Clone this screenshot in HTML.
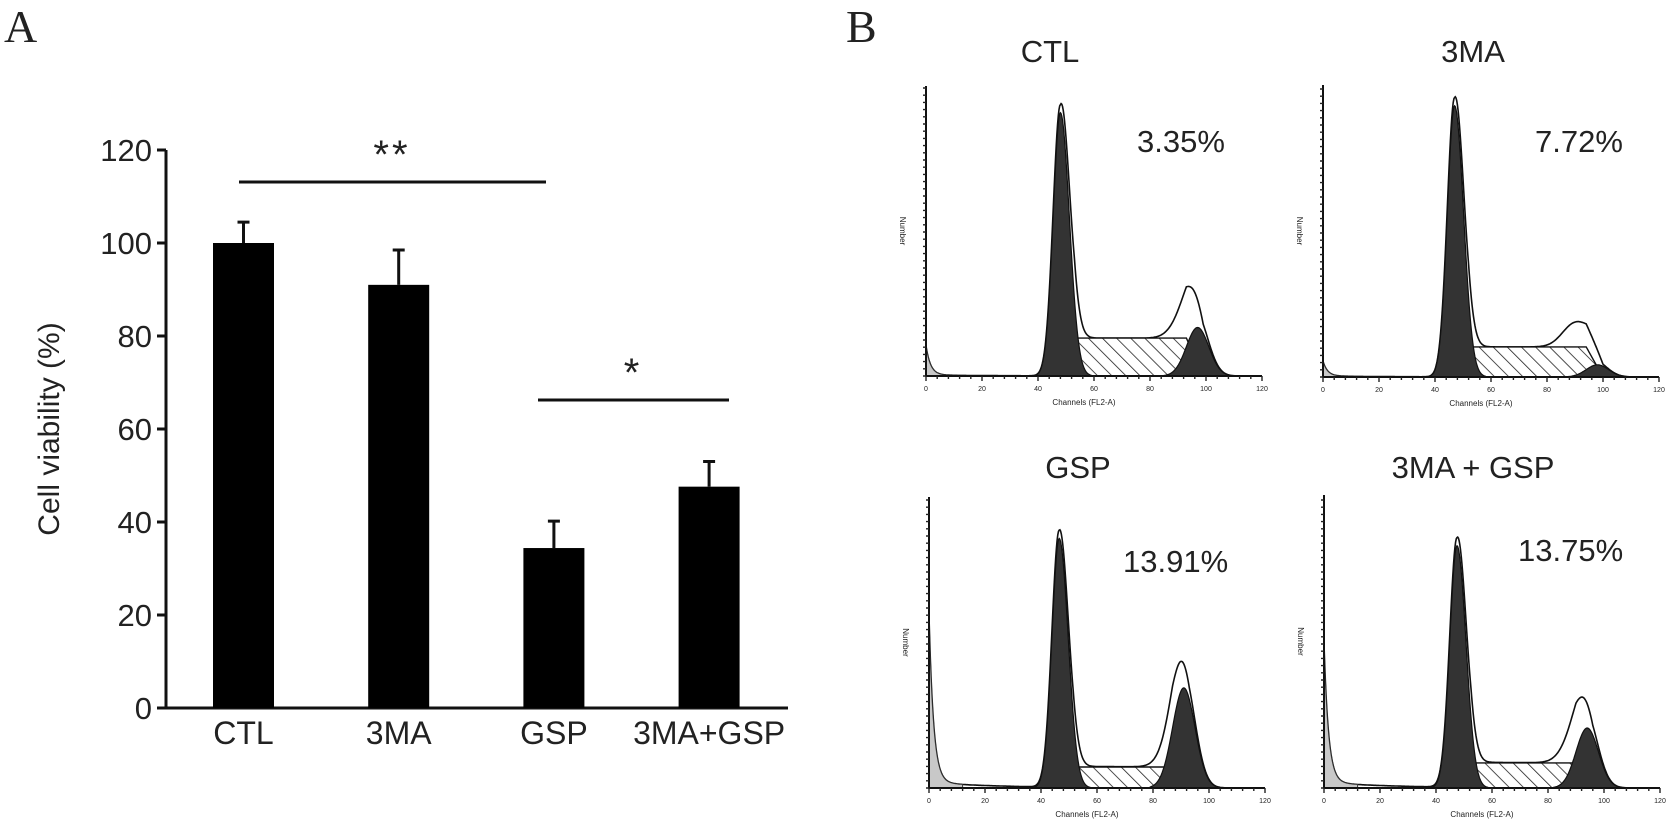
<!DOCTYPE html>
<html><head><meta charset="utf-8"><style>
html,body{margin:0;padding:0;background:#fff}
svg{display:block}
text{font-family:"Liberation Sans",Arial,sans-serif;fill:#222}
</style></head><body>
<svg id="fig" width="1680" height="833" viewBox="0 0 1680 833">
<defs>
<pattern id="hatch" width="10" height="10" patternUnits="userSpaceOnUse" patternTransform="rotate(-45)">
<rect width="10" height="10" fill="#fff"/><line x1="0" y1="0" x2="0" y2="10" stroke="#222" stroke-width="1.6"/>
</pattern>
</defs>
<text x="4" y="42" style="font-family:'Liberation Serif',serif;font-size:46px" fill="#111">A</text>
<text x="846" y="42" style="font-family:'Liberation Serif',serif;font-size:46px" fill="#111">B</text>
<g id="barChart"></g>
<g id="flow"></g>
</svg>
<script>
const NS="http://www.w3.org/2000/svg";
const categories=["CTL","3MA","GSP","3MA+GSP"];
const viability=[100,91,34.4,47.6];
const errors=[4.5,7.5,5.8,5.4];
const yTicks=[0,20,40,60,80,100,120];
const sigGroups=[[0,2,"**",120],[2,3,"*",75]];

// flow panels data
const panelTitles=["CTL","3MA","GSP","3MA + GSP"];
const percents=["3.35%","7.72%","13.91%","13.75%"];
const g1Channel=[48,47,46.5,47.5];
const g1Height=[1085,1110,536,521];
const g2Channel=[97,98,91,94];
const g2Height=[200,50,215,129];
const g2OutlineChannel=[93,90,88,90];
const g2OutlineHeight=[90,95,45,50];
const sLevel=[156,123,45,54];
const debrisHeight=[120,60,356,296];
const yMaxCounts=[1195,1195,625,630];

function mk(tag,attrs,parent){const e=document.createElementNS(NS,tag);for(const k in attrs)e.setAttribute(k,attrs[k]);parent.appendChild(e);return e;}

// ---- bar chart ----
const bc=document.getElementById('barChart');
const axX=166,y0=708,y120=150,xEnd=788;
const yScale=v=>y0-(v/120)*(y0-y120);
const xCenter=i=>243.5+i*155.2;
const barW=61;
mk('line',{x1:axX,y1:y120,x2:axX,y2:y0,stroke:'#111','stroke-width':3},bc);
mk('line',{x1:axX-1.5,y1:y0,x2:xEnd,y2:y0,stroke:'#111','stroke-width':3},bc);
yTicks.forEach(t=>{
  const y=yScale(t);
  const l=mk('line',{x1:axX-9,y1:y,x2:axX,y2:y,stroke:'#111','stroke-width':3},bc);
  
  
  const tx=mk('text',{x:axX-14,y:y+11,'text-anchor':'end','font-size':31},bc);
  tx.textContent=t;
  
  
});
const yl=mk('text',{x:0,y:0,'text-anchor':'middle','font-size':30,transform:`translate(59,429) rotate(-90)`},bc);
yl.textContent="Cell viability (%)";


categories.forEach((c,i)=>{
  const cx=xCenter(i),top=yScale(viability[i]),et=yScale(viability[i]+errors[i]);
  const r=mk('rect',{x:cx-barW/2,y:top,width:barW,height:y0-top,fill:'#000'},bc);
  
  
  const e=mk('path',{d:`M${cx},${top} V${et} M${cx-6},${et} H${cx+6}`,stroke:'#111','stroke-width':3,fill:'none'},bc);
  
  
  const t=mk('text',{x:cx,y:744,'text-anchor':'middle','font-size':32},bc);
  t.textContent=c;
  
  
});
sigGroups.forEach(g=>{
  const yy=g[2]==="**"?182:400;
  const l=mk('line',{x1:g[2]==="**"?239:538,y1:yy,x2:g[2]==="**"?546:729,y2:yy,stroke:'#111','stroke-width':3},bc);
  
  
  const t=mk('text',{x:g[2]==="**"?392:633,y:yy-14,'text-anchor':'middle','font-size':40,fill:'#4a5666','letter-spacing':3},bc);
  t.textContent=g[2];
  
  
});

// ---- flow panels ----
const fl=document.getElementById('flow');
const geo=[{ax:926,base:376,top:86},{ax:1323,base:377,top:85},{ax:929,base:788,top:497},{ax:1324,base:788,top:495}];
const titlePos=[[1050,62],[1473,62],[1078,478],[1473,478]];
const pctPos=[[1137,152],[1535,152],[1123,572],[1518,561]];
const W=336;
const gauss=(x,m,s)=>Math.exp(-0.5*((x-m)/s)**2);
function sCurve(ch,a,b,lv){
  if(ch<a||ch>b+6)return 0;
  let v=lv;
  if(ch<a+5)v*= (ch-a)/5;
  if(ch>b)v*=1-(ch-b)/6;
  return v;
}
for(let p=0;p<4;p++){
  const g=document.createElementNS(NS,'g');
  
  
  fl.appendChild(g);
  const G=geo[p];
  const xs=ch=>G.ax+ch/120*W;
  const ys=v=>G.base-Math.min(v,yMaxCounts[p])/yMaxCounts[p]*(G.base-G.top);
  const deb=ch=>debrisHeight[p]*Math.exp(-ch/1.6)+ (p>=2?12:4)*Math.exp(-ch/25);
  const g1=ch=>g1Height[p]*gauss(ch,g1Channel[p],ch<g1Channel[p]?2.6:3.2);
  const s=ch=>sCurve(ch,g1Channel[p],g2Channel[p]-4,sLevel[p]);
  const g2=ch=>g2Height[p]*gauss(ch,g2Channel[p],4);
  const g2o=ch=>g2OutlineHeight[p]*gauss(ch,g2OutlineChannel[p],4.5);
  const tot=ch=>Math.max(deb(ch)+g1(ch)*1.03+s(ch)+g2(ch)+g2o(ch),0);
  function area(fn,a,b){let d=`M${xs(a)},${G.base}`;for(let c=a;c<=b;c+=0.25)d+=` L${xs(c).toFixed(1)},${ys(fn(c)).toFixed(1)}`;return d+` L${xs(b)},${G.base} Z`;}
  let e=mk('path',{d:area(tot,0,115),fill:'#fff',stroke:'#111','stroke-width':1.6},g);
  
  
  e=mk('path',{d:area(deb,0,12),fill:'#c8c8c8',stroke:'#333','stroke-width':1},g);
  
  
  e=mk('path',{d:area(s,g1Channel[p],g2Channel[p]+3),fill:'url(#hatch)',stroke:'#111','stroke-width':1.4},g);
  
  
  e=mk('path',{d:area(g1,g1Channel[p]-10,g1Channel[p]+11),fill:'#333',stroke:'#111','stroke-width':1.2},g);
  
  
  e=mk('path',{d:area(g2,g2Channel[p]-12,g2Channel[p]+12),fill:'#333',stroke:'#111','stroke-width':1.2},g);
  
  
  e=mk('line',{x1:G.ax,y1:G.top,x2:G.ax,y2:G.base,stroke:'#111','stroke-width':2},g);
  
  
  e=mk('line',{x1:G.ax,y1:G.base,x2:G.ax+W,y2:G.base,stroke:'#111','stroke-width':2},g);
  
  
  let tk='';
  for(let c=0;c<=120;c+=4){const x=xs(c);tk+=`M${x},${G.base} v${c%20===0?5:3} `;}
  for(let y=G.base;y>=G.top;y-=7.2){tk+=`M${G.ax},${y} h-${3} `;}
  e=mk('path',{d:tk,stroke:'#222','stroke-width':1.4,fill:'none'},g);
  
  
  for(let c=0;c<=120;c+=20){
    const t=mk('text',{x:xs(c),y:G.base+15,'text-anchor':'middle','font-size':7,fill:'#777'},g);
    t.textContent=c;
    
    
  }
  let t=mk('text',{x:G.ax+W/2-10,y:G.base+29,'text-anchor':'middle','font-size':8,fill:'#777'},g);
  t.textContent="Channels (FL2-A)";
  
  
  t=mk('text',{x:0,y:0,'text-anchor':'middle','font-size':8,fill:'#777',transform:`translate(${G.ax-26},${(G.base+G.top)/2}) rotate(90)`},g);
  t.textContent="Number";
  
  
  t=mk('text',{x:titlePos[p][0],y:titlePos[p][1],'text-anchor':'middle','font-size':31},g);
  t.textContent=panelTitles[p];
  
  
  t=mk('text',{x:pctPos[p][0],y:pctPos[p][1],'font-size':31},g);
  t.textContent=percents[p];
  
  
}
</script>
</body></html>
